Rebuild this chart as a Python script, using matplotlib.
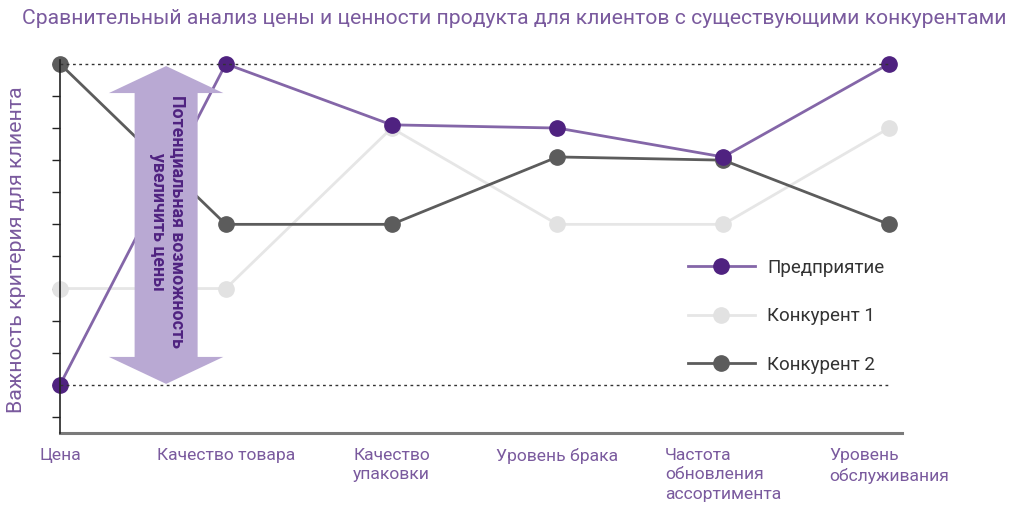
import numpy as np
import matplotlib
matplotlib.use('Agg')
import matplotlib.pyplot as plt
from matplotlib.patches import Polygon
from matplotlib.lines import Line2D

plt.rcParams['font.family'] = ['Roboto', 'DejaVu Sans']

# data
categories = ['Цена', 'Качество товара', 'Качество\nупаковки', 'Уровень брака',
              'Частота\nобновления\nассортимента', 'Уровень\nобслуживания']
enterprise = [1, 11, 9.1, 9.0, 8.1, 11]
competitor1 = [4, 4, 9, 6, 6, 9]
competitor2 = [11, 6, 6, 8.1, 8.0, 6]
series_names = ['Предприятие', 'Конкурент 1', 'Конкурент 2']

title = 'Сравнительный анализ цены и ценности продукта для клиентов с существующими конкурентами'
ylabel = 'Важность критерия для клиента'
arrow_text = 'Потенциальная возможность\nувеличить цены'

purple_line = '#8466a8'
purple_dot = '#4f2280'
light_line = '#e6e6e6'
light_dot = '#e2e2e2'
dark = '#5c5c5c'
label_col = '#7a5a9e'

W, H = 1011, 505
fig = plt.figure(figsize=(W / 100, H / 100), dpi=100)
ax = fig.add_axes([60 / W, (H - 433) / H, (902 - 60) / W, (433 - 60) / H])

x = np.arange(len(categories))
lw = 2.0
ms = 11
ax.plot(x, competitor1, color=light_line, lw=lw, marker='o', ms=ms,
        mfc=light_dot, mec=light_dot, clip_on=False, zorder=2)
ax.plot(x, competitor2, color=dark, lw=lw, marker='o', ms=ms,
        mfc=dark, mec=dark, clip_on=False, zorder=3)
ax.plot(x, enterprise, color=purple_line, lw=lw, marker='o', ms=ms,
        mfc=purple_dot, mec=purple_dot, clip_on=False, zorder=4)

lo, hi = min(enterprise), max(enterprise)
ax.hlines([lo, hi], 0, x[-1], colors='#333333', linestyles=(0, (2, 2.5)),
          lw=1.0, zorder=6, clip_on=False)

# double arrow (price potential)
ac = 0.64
bw, hw, hl = 0.19, 0.345, 0.84
tip_top, tip_bot = hi - 0.07, lo + 0.03
arrow = Polygon([(ac, tip_top), (ac + hw, tip_top - hl), (ac + bw, tip_top - hl),
                 (ac + bw, tip_bot + hl), (ac + hw, tip_bot + hl), (ac, tip_bot),
                 (ac - hw, tip_bot + hl), (ac - bw, tip_bot + hl),
                 (ac - bw, tip_top - hl), (ac - hw, tip_top - hl)],
                closed=True, fc='#b9a9d3', ec='none', zorder=5)
ax.add_patch(arrow)
ax.text(ac + 0.01, (tip_top + tip_bot) / 2 + 0.1, arrow_text, rotation=-90, ha='center', va='center',
        fontsize=12.8, fontweight='bold', color=purple_dot, linespacing=1.15, zorder=7)

ax.set_xlim(0, 5.078)
ax.set_ylim(-0.5, 11.12)
ax.set_yticks(np.arange(0, 12))
ax.set_yticklabels([])
ax.tick_params(axis='y', direction='out', length=6, width=1, color='#222222')
ax.set_xticks(x)
ax.set_xticklabels(categories, fontsize=12.6, color=label_col, linespacing=1.35)
for lab in ax.get_xticklabels():
    lab.set_multialignment('left')
    lab.set_verticalalignment('top')
ax.tick_params(axis='x', length=0, pad=11)

for s in ['top', 'right']:
    ax.spines[s].set_visible(False)
ax.spines['left'].set_color('#222222')
ax.spines['left'].set_linewidth(1.2)
ax.spines['left'].set_zorder(6)
ax.spines['bottom'].set_color('#7a7a7a')
ax.spines['bottom'].set_linewidth(2.2)

fig.text(17 / W, 1 - 250 / H, ylabel, rotation=90, ha='center', va='center',
         fontsize=15.4, color=label_col)
fig.text(22 / W, 1 - 19 / H, title, ha='left', va='center', fontsize=15.2, color=label_col)

handles = [Line2D([], [], color=purple_line, lw=lw, marker='o', ms=ms, mfc=purple_dot, mec=purple_dot),
           Line2D([], [], color=light_line, lw=lw, marker='o', ms=ms, mfc=light_dot, mec=light_dot),
           Line2D([], [], color=dark, lw=lw, marker='o', ms=ms, mfc=dark, mec=dark)]
fig.legend(handles, series_names, loc='upper left', bbox_to_anchor=(688 / W, 1 - 259 / H),
           frameon=False, fontsize=13.5, handlelength=3.57, handletextpad=0.64,
           labelspacing=1.62, borderpad=0, borderaxespad=0, labelcolor='#333333')

fig.savefig('out.png', dpi=100)
